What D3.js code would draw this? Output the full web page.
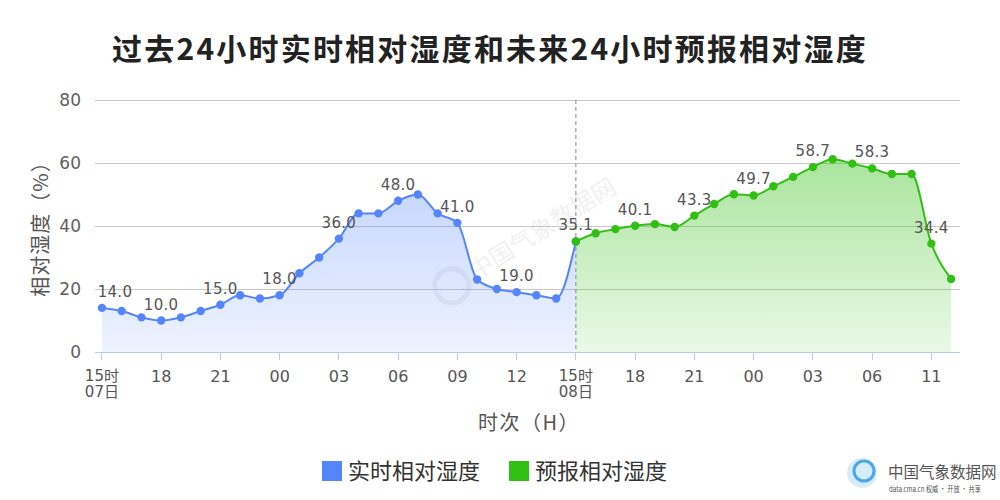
<!DOCTYPE html>
<html><head><meta charset="utf-8">
<script src="https://cdn.jsdelivr.net/npm/d3@7"></script>
<style>body{margin:0;background:#fff}svg{display:block}</style>
</head><body><svg id="c" width="1000" height="500"></svg>
<script>
const title = "过去24小时实时相对湿度和未来24小时预报相对湿度";
const hours = ["15","16","17","18","19","20","21","22","23","00","01","02","03","04","05","06","07","08","09","10","11","12","13","14",
               "15","16","17","18","19","20","21","22","23","00","01","02","03","04","05","06","07","08","11","14"];
const tickLabels = {0:["15时","07日"],24:["15时","08日"]};
const realValues = [14.0,13.0,11.0,10.0,11.0,13.0,15.0,18.0,17.0,18.0,25.0,30.0,36.0,44.0,44.0,48.0,50.0,44.0,41.0,23.0,20.0,19.0,18.0,17.0,35.1];
const forecastValues = [35.1,37.7,39.0,40.1,40.6,39.7,43.3,47.0,50.1,49.7,52.6,55.6,58.7,61.2,59.8,58.3,56.5,56.5,34.4,23.2];
const forecastStart = 24;
const yTicks = [0,20,40,60,80];
const seriesNames = ["实时相对湿度","预报相对湿度"];
const colors = ["#5585fb","#30bf12"];

const CJK = '"Noto Sans CJK SC","Noto Sans",sans-serif';
const NUM = '"DejaVu Sans","Noto Sans CJK SC",sans-serif';
const svg = d3.select("#c");
const L = 95, R = 960, T = 100, B = 352;
const x = d3.scaleLinear().domain([-0.35, hours.length - 1 + 0.45]).range([L, R]);
const y = d3.scaleLinear().domain([0, 80]).range([B, T]);

const defs = svg.append("defs");
colors.forEach((c, i) => {
  const g = defs.append("linearGradient").attr("id", "g" + i).attr("gradientUnits", "userSpaceOnUse")
    .attr("x1", 0).attr("x2", 0).attr("y1", y(62)).attr("y2", B);
  g.append("stop").attr("offset", 0).attr("stop-color", c).attr("stop-opacity", i ? 0.42 : 0.38);
  g.append("stop").attr("offset", 1).attr("stop-color", c).attr("stop-opacity", 0.1);
});

// title
svg.append("text").attr("x", 490).attr("y", 60).attr("text-anchor", "middle")
  .style("font-family", CJK).attr("font-size", 30).attr("font-weight", "bold").attr("fill", "#222")
  .attr("letter-spacing", 2.2).text(title);

// grid
svg.append("g").selectAll("line").data(yTicks.filter(d => d > 0)).join("line")
  .attr("x1", L).attr("x2", R).attr("y1", d => y(d)).attr("y2", d => y(d))
  .attr("stroke", "#c8c8c8").attr("stroke-width", 1).attr("shape-rendering", "crispEdges");
svg.append("g").selectAll("text").data(yTicks).join("text")
  .attr("x", 81).attr("y", d => y(d) + 6).attr("text-anchor", "end")
  .attr("font-size", 17).attr("fill", "#606060").style("font-family", NUM).text(d => d);

// y title
svg.append("text").attr("transform", "translate(48,224) rotate(-90)").attr("text-anchor", "middle")
  .style("font-family", CJK).attr("font-size", 20).attr("fill", "#555").attr("letter-spacing", 1).text("相对湿度（%）");

// watermark
const wm = svg.append("g").attr("opacity", 0.12).attr("transform", "translate(490,262) rotate(-32)");
wm.append("circle").attr("cx", -45).attr("cy", 0).attr("r", 17).attr("fill", "none").attr("stroke", "#999").attr("stroke-width", 5);
wm.append("text").attr("x", -22).attr("y", 8).style("font-family", CJK).attr("font-size", 24).attr("fill", "#888").text("中国气象数据网");

// areas and lines
const realData = realValues.map((v, i) => [i, v]);
const fcData = forecastValues.map((v, i) => [i + forecastStart, v]);
const area = d3.area().x(d => x(d[0])).y0(B).y1(d => y(d[1])).curve(d3.curveMonotoneX);
const line = d3.line().x(d => x(d[0])).y(d => y(d[1])).curve(d3.curveMonotoneX);
[realData, fcData].forEach((data, i) => {
  svg.append("path").datum(data).attr("d", area).attr("fill", `url(#g${i})`);
});
svg.append("line").attr("x1", x(forecastStart)).attr("x2", x(forecastStart)).attr("y1", T).attr("y2", B)
  .attr("stroke", "#888").attr("stroke-dasharray", "4,3").attr("stroke-width", 1);
[realData, fcData].forEach((data, i) => {
  svg.append("path").datum(data).attr("d", line).attr("fill", "none").attr("stroke", colors[i]).attr("stroke-width", 2);
  svg.append("g").selectAll("circle").data(data).join("circle")
    .attr("cx", d => x(d[0])).attr("cy", d => y(d[1])).attr("r", 4.2).attr("fill", colors[i]);
});
const labelData = realData.filter(d => d[0] % 3 === 0 && d[0] < forecastStart).concat(fcData.filter(d => d[0] % 3 === 0));
svg.append("g").selectAll("text").data(labelData).join("text")
  .attr("x", d => Math.max(x(d[0]), L + 20)).attr("y", d => y(d[1]) - 11).attr("text-anchor", "middle")
  .attr("font-size", 15).attr("fill", "#555").style("font-family", NUM).attr("letter-spacing", 0.3)
  .text(d => d[1].toFixed(1));

// x axis
svg.append("line").attr("x1", L).attr("x2", R).attr("y1", B + 0.5).attr("y2", B + 0.5).attr("stroke", "#b8cce4");
const tickIdx = d3.range(0, hours.length, 3);
svg.append("g").selectAll("line").data(tickIdx).join("line")
  .attr("x1", d => x(d)).attr("x2", d => x(d)).attr("y1", B).attr("y2", B + 8).attr("stroke", "#b8cce4")
  .attr("shape-rendering", "crispEdges");
const xl = svg.append("g").selectAll("text").data(tickIdx).join("text")
  .attr("x", d => x(d)).attr("y", 382).attr("text-anchor", "middle")
  .attr("font-size", 16).attr("fill", "#555").style("font-family", NUM);
xl.each(function(d) {
  const t = d3.select(this);
  if (tickLabels[d]) {
    t.attr("font-size", 15);
    t.append("tspan").attr("x", x(d)).attr("y", 381).text(tickLabels[d][0]);
    t.append("tspan").attr("x", x(d)).attr("y", 397).text(tickLabels[d][1]);
  } else t.text(hours[d]);
});
svg.append("text").attr("x", 529).attr("y", 430).attr("text-anchor", "middle")
  .style("font-family", CJK).attr("font-size", 20).attr("fill", "#555").attr("letter-spacing", 1.5).text("时次（H）");

// legend
const leg = [[322, 0], [509, 1]];
leg.forEach(([lx, i]) => {
  svg.append("rect").attr("x", lx).attr("y", 461).attr("width", 20).attr("height", 20).attr("fill", colors[i]);
  svg.append("text").attr("x", lx + 26).attr("y", 479).style("font-family", CJK).attr("font-size", 22).attr("fill", "#333").text(seriesNames[i]);
});

// logo
const lg = svg.append("g");
lg.append("circle").attr("cx", 862).attr("cy", 473).attr("r", 15).attr("fill", "#d6ecfb");
lg.append("circle").attr("cx", 864).attr("cy", 471).attr("r", 10).attr("fill", "none").attr("stroke", "#4aa6e8").attr("stroke-width", 3);
lg.append("text").attr("x", 888).attr("y", 478).style("font-family", CJK).attr("font-size", 15.5).attr("fill", "#555").text("中国气象数据网");
lg.append("text").attr("x", 889).attr("y", 492).style("font-family", CJK).attr("font-size", 7.5).attr("fill", "#555")
  .attr("textLength", 92).attr("lengthAdjust", "spacingAndGlyphs").text("data.cma.cn 权威 · 开放 · 共享");
</script></body></html>
